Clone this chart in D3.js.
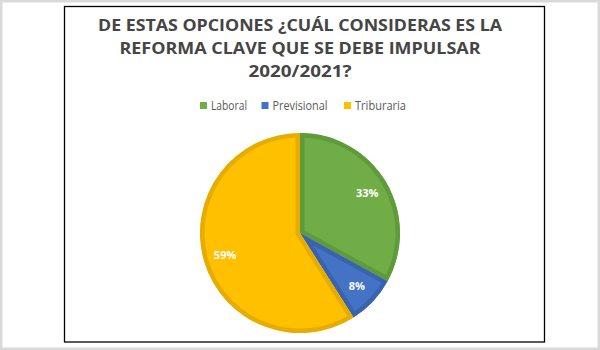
<!DOCTYPE html>
<html>
<head>
<meta charset="utf-8">
<script src="https://cdn.jsdelivr.net/npm/d3@7"></script>
<style>
  html, body { margin: 0; padding: 0; background: #fff; }
  svg { display: block; }
</style>
</head>
<body>
<svg id="chart" width="600" height="350"></svg>
<script>
// Survey answers: which reform should be pushed in 2020/2021
const categories = ["Laboral", "Previsional", "Triburaria"];
const shares = [33, 8, 59];
const fills = ["#70AD47", "#4472C4", "#FFC000"];
const edges = ["#5F9A3B", "#3A63AE", "#E6AD00"];
const titleLines = [
  "DE ESTAS OPCIONES ¿CUÁL CONSIDERAS ES LA",
  "REFORMA CLAVE QUE SE DEBE IMPULSAR",
  "2020/2021?"
];
const titleWidths = [404, 361, 103];
const legendWidths = [36, 55, 51];

const svg = d3.select("#chart");
const W = 600, H = 350;

// page frame and chart box
svg.append("rect").attr("x", 1.25).attr("y", 1.25).attr("width", W - 2.5).attr("height", H - 2.5)
  .attr("fill", "#fff").attr("stroke", "#d9d9d9").attr("stroke-width", 2.5);
svg.append("rect").attr("x", 64.5).attr("y", 6.5).attr("width", 480).attr("height", 335.5)
  .attr("fill", "#fff").attr("stroke", "#000").attr("stroke-width", 1.3);

// title
const title = svg.append("g");
titleLines.forEach((t, i) => {
  title.append("text")
    .attr("x", 300).attr("y", 31 + i * 23)
    .attr("text-anchor", "middle")
    .attr("font-family", "'Open Sans', sans-serif")
    .attr("font-weight", 700)
    .attr("font-size", 15.4)
    .attr("fill", "#454545")
    .attr("textLength", titleWidths[i])
    .attr("lengthAdjust", "spacingAndGlyphs")
    .text(t);
});

// legend
const legendX = d3.scaleOrdinal().domain(categories).range([200, 261.5, 344]);
const legend = svg.append("g");
categories.forEach((c, i) => {
  const x = legendX(c);
  legend.append("rect").attr("x", x).attr("y", 102).attr("width", 7).attr("height", 7).attr("fill", fills[i]);
  legend.append("text")
    .attr("x", x + 11).attr("y", 109.5)
    .attr("font-family", "'Open Sans', sans-serif")
    .attr("font-size", 12)
    .attr("fill", "#595959")
    .attr("textLength", legendWidths[i])
    .attr("lengthAdjust", "spacingAndGlyphs")
    .text(c);
});

// pie
const cx = 300, cy = 233, R = 100;
const data = categories.map((c, i) => ({ name: c, value: shares[i], i }));
const pie = d3.pie().value(d => d.value).sort(null);
const arc = d3.arc().innerRadius(0).outerRadius(R);
const labelArc = d3.arc().innerRadius(78).outerRadius(78);
const arcs = pie(data);

const g = svg.append("g").attr("transform", `translate(${cx},${cy})`);
const defs = svg.append("defs");
arcs.forEach((a, k) => {
  defs.append("clipPath").attr("id", "slice" + k)
    .append("path").attr("d", arc(a));
});
// each slice carries a darker inner rim (stroke clipped to its own shape)
g.selectAll("path.slice").data(arcs).join("path")
  .attr("class", "slice")
  .attr("d", arc)
  .attr("fill", d => fills[d.data.i])
  .attr("stroke", d => edges[d.data.i])
  .attr("stroke-width", 9)
  .attr("stroke-linejoin", "miter")
  .attr("clip-path", (d, k) => `url(#slice${k})`);

g.selectAll("text.pct").data(arcs).join("text")
  .attr("class", "pct")
  .attr("transform", d => `translate(${labelArc.centroid(d)})`)
  .attr("text-anchor", "middle")
  .attr("dy", "0.36em")
  .attr("font-family", "'Open Sans', sans-serif")
  .attr("font-weight", 700)
  .attr("font-size", 11)
  .attr("fill", "#fff")
  .text(d => d.data.value + "%");
</script>
</body>
</html>
